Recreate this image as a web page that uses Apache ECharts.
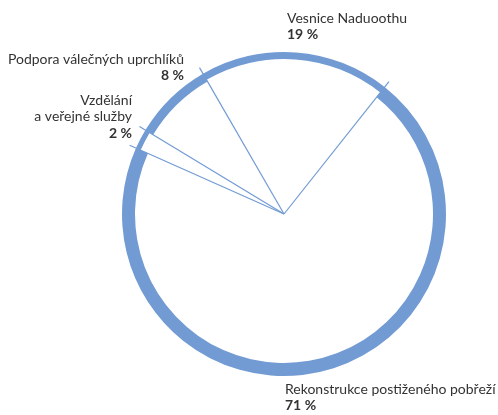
<!DOCTYPE html>
<html>
<head>
<meta charset="utf-8">
<script src="https://cdn.jsdelivr.net/npm/echarts@6/dist/echarts.min.js"></script>
<style>
  html, body { margin: 0; padding: 0; background: #fff; }
  #main { width: 498px; height: 415px; }
</style>
</head>
<body>
<div id="main"></div>
<script>
// data, clockwise from the upper right boundary
var names = ['Rekonstrukce postiženého pobřeží', 'Vzdělání\na veřejné služby', 'Podpora válečných uprchlíků', 'Vesnice Naduoothu'];
var values = [71, 2, 8, 19];

var blue = '#729bd4';
var textColor = '#333333';
var center = [284, 214];
var outerR = 162;
var ringWidth = [13, 5, 9, 7];
var labelPos = [
    {x: 285, y: 381, align: 'left'},
    {x: 132, y: 92, align: 'right'},
    {x: 184, y: 51, align: 'right'},
    {x: 287, y: 10, align: 'left'}
];

var boundaries = [];
var acc = 0;
values.forEach(function (v) { boundaries.push([1, acc]); acc += v; });

var chartDom = document.getElementById('main');
var myChart = echarts.init(chartDom);
var option;

var txt = { fontFamily: 'Lato', fontSize: 14, color: textColor, lineHeight: 16.5 };
var rich = {
    nl: Object.assign({}, txt, { align: 'left' }),
    nr: Object.assign({}, txt, { align: 'right' }),
    vl: Object.assign({}, txt, { align: 'left', fontWeight: 'bold' }),
    vr: Object.assign({}, txt, { align: 'right', fontWeight: 'bold' })
};

var series = [];
values.forEach(function (_, k) {
    series.push({
        type: 'pie',
        center: center,
        radius: [outerR - ringWidth[k], outerR],
        startAngle: 51.6,
        clockwise: true,
        silent: true,
        avoidLabelOverlap: false,
        animation: false,
        itemStyle: { borderWidth: 0 },
        data: values.map(function (v, i) {
            return {
                value: v,
                name: names[i],
                itemStyle: { color: i === k ? blue : 'rgba(0,0,0,0)' }
            };
        }),
        labelLine: { show: false },
        label: k === 0 ? {
            show: true,
            formatter: function (p) {
                var s = labelPos[p.dataIndex].align === 'right' ? 'r' : 'l';
                var lines = p.name.split('\n').map(function (l) { return '{n' + s + '|' + l + '}'; });
                return lines.join('\n') + '\n{v' + s + '|' + p.value + ' %}';
            },
            rich: rich
        } : { show: false },
        labelLayout: k === 0 ? function (p) {
            var lp = labelPos[p.dataIndex];
            return { x: lp.x, y: lp.y, align: lp.align, verticalAlign: 'top' };
        } : null
    });
});

series.push({
    type: 'custom',
    coordinateSystem: 'polar',
    silent: true,
    animation: false,
    data: boundaries,
    renderItem: function (params, api) {
        var v = api.value(1);
        var p0 = api.coord([0, v]);
        var p1 = api.coord([1, v]);
        return {
            type: 'line',
            shape: { x1: p0[0], y1: p0[1], x2: p1[0], y2: p1[1] },
            style: { stroke: blue, lineWidth: 1.2 }
        };
    }
});

option = {
    backgroundColor: '#fff',
    polar: { center: center, radius: 169 },
    angleAxis: { type: 'value', min: 0, max: 100, startAngle: 51.6, clockwise: true, show: false },
    radiusAxis: { type: 'value', min: 0, max: 1, show: false },
    series: series
};

option && myChart.setOption(option);
</script>
</body>
</html>
